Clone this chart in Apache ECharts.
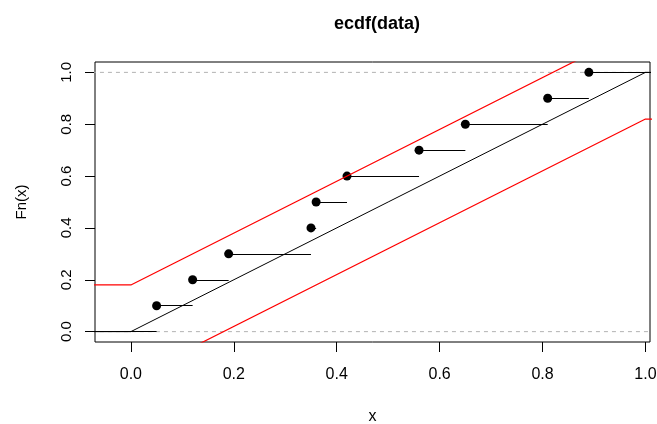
<!DOCTYPE html>
<html>
<head>
<meta charset="utf-8">
<script src="https://cdn.jsdelivr.net/npm/echarts@6/dist/echarts.min.js"></script>
<style>
html,body{margin:0;padding:0;background:#fff;}
#chart{width:657px;height:424px;}
</style>
</head>
<body>
<div id="chart"></div>
<script>
// ECDF jump points and values
const jumpX = [0.05, 0.12, 0.19, 0.35, 0.36, 0.42, 0.56, 0.65, 0.81, 0.89];
const jumpY = [0.1, 0.2, 0.3, 0.4, 0.5, 0.6, 0.7, 0.8, 0.9, 1.0];
// step function extends past the plot on both sides
const stepStart = -0.2;
const stepEnd = 1.2;
// theoretical CDF and confidence band breakpoints
const cdfX = [-0.2, 0, 1, 1.2];
const cdfY = [0, 0, 1, 1];
const upperY = [0.18, 0.18, 1.18, 1.18];
const lowerY = [-0.18, -0.18, 0.82, 0.82];
// reference lines
const refY = [0, 1];
// tick labels
const xTicks = [0, 0.2, 0.4, 0.6, 0.8, 1.0];
const yTicks = [0, 0.2, 0.4, 0.6, 0.8, 1.0];

const FONT = "'Liberation Sans', Arial, Helvetica, sans-serif";

// build step segments
const segs = [];
segs.push({coords: [[stepStart, 0], [jumpX[0], 0]]});
for (let i = 0; i < jumpX.length; i++) {
  const xe = i + 1 < jumpX.length ? jumpX[i + 1] : stepEnd;
  segs.push({coords: [[jumpX[i], jumpY[i]], [xe, jumpY[i]]]});
}
const pts = jumpX.map((x, i) => [x, jumpY[i]]);
const pair = (xs, ys) => xs.map((x, i) => [x, ys[i]]);

const series = [];
refY.forEach(v => {
  series.push({
    type: 'line', data: [[stepStart, v], [stepEnd, v]], symbol: 'none',
    lineStyle: {color: '#B3B3B3', width: 1, type: [4, 4]}, silent: true, z: 1
  });
});
series.push({
  type: 'lines', coordinateSystem: 'cartesian2d', data: segs, clip: true,
  lineStyle: {color: '#000', width: 1, opacity: 1}, z: 2
});
series.push({
  type: 'scatter', data: pts, symbol: 'circle', symbolSize: 9,
  itemStyle: {color: '#000', opacity: 1}, z: 3
});
series.push({
  type: 'line', data: pair(cdfX, cdfY), symbol: 'none', clip: true,
  lineStyle: {color: '#000', width: 1}, z: 4
});
series.push({
  type: 'line', data: pair(cdfX, upperY), symbol: 'none', clip: true,
  lineStyle: {color: '#FF0000', width: 1.2}, z: 5
});
series.push({
  type: 'line', data: pair(cdfX, lowerY), symbol: 'none', clip: true,
  lineStyle: {color: '#FF0000', width: 1.2}, z: 5
});

const chart = echarts.init(document.getElementById('chart'), null, {renderer: 'canvas'});
chart.setOption({
  animation: false,
  backgroundColor: '#fff',
  title: {
    text: 'ecdf(data)', left: 372, top: 10, textAlign: 'center',
    textStyle: {fontFamily: FONT, fontWeight: 'bold', fontSize: 18, color: '#000'}
  },
  grid: {
    left: 95, right: 7, top: 62, bottom: 82,
    outerBoundsMode: 'none', containLabel: false,
    show: true, borderColor: '#000', borderWidth: 1, backgroundColor: 'transparent'
  },
  xAxis: {
    type: 'value', min: -0.0697, max: 1.0088,
    name: 'x', nameLocation: 'middle', nameGap: 67,
    nameTextStyle: {fontFamily: FONT, fontSize: 16, color: '#000'},
    axisLine: {show: false, onZero: false},
    axisTick: {show: true, length: 10, customValues: xTicks, lineStyle: {color: '#000'}},
    axisLabel: {customValues: xTicks, margin: 25, fontFamily: FONT, fontSize: 16, color: '#000',
      formatter: v => v.toFixed(1)},
    splitLine: {show: false}
  },
  yAxis: {
    type: 'value', min: -0.04, max: 1.04,
    name: 'Fn(x)', nameLocation: 'middle', nameGap: 66, nameRotate: 90,
    nameTextStyle: {fontFamily: FONT, fontSize: 15, color: '#000'},
    axisLine: {show: false, onZero: false},
    axisTick: {show: true, length: 10, customValues: yTicks, lineStyle: {color: '#000'}},
    axisLabel: {customValues: yTicks, margin: 21, rotate: 90, fontFamily: FONT, fontSize: 15, color: '#000',
      formatter: v => v.toFixed(1)},
    splitLine: {show: false}
  },
  series: series
});
</script>
</body>
</html>
